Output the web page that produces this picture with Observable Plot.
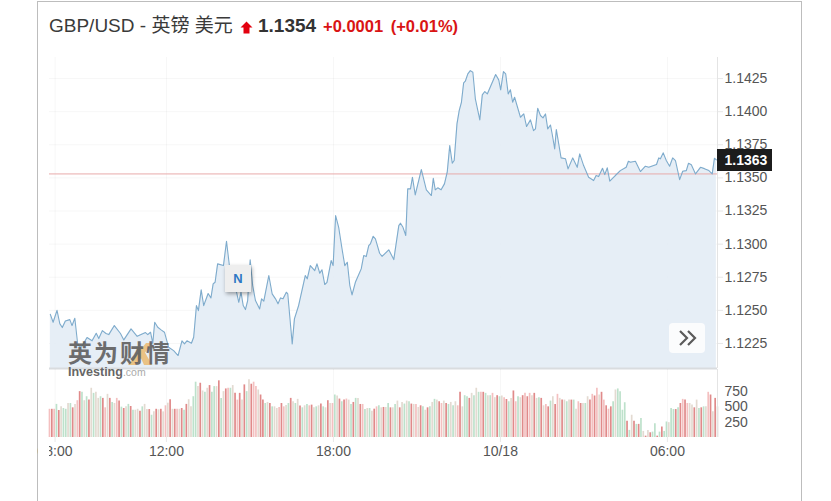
<!DOCTYPE html>
<html>
<head>
<meta charset="utf-8">
<script src="https://cdn.jsdelivr.net/npm/d3@7"></script>
<script src="https://cdn.jsdelivr.net/npm/@observablehq/plot@0.6"></script>
<style>
html,body{margin:0;padding:0;background:#fff;overflow:hidden}
body{width:831px;height:501px;position:relative;font-family:"Liberation Sans","Noto Sans CJK SC",Arial,sans-serif}
.abs{position:absolute}
#frame{left:37px;top:1px;width:765px;height:520px;border:1px solid #bdbdbd;box-sizing:border-box}
#head{left:49px;top:13px;height:26px;white-space:nowrap;color:#3a3a3a;font-size:19px;line-height:26px}
#price{left:258px;top:13px;font-size:19px;line-height:26px;font-weight:bold;color:#333}
#chg{left:323px;top:13px;font-size:16.5px;line-height:26px;font-weight:bold;color:#d91414;word-spacing:3px;white-space:nowrap}
#last{left:717px;top:149px;width:55px;height:22px;background:#1c1c1c;color:#fff;font-size:14px;font-weight:bold;line-height:22px;text-align:center;text-indent:3px}
#news{left:225px;top:265px;width:26px;height:27px;background:#eeeeee;box-shadow:1px 2px 4px rgba(0,0,0,.35);color:#2f78c4;font-size:13px;font-weight:bold;line-height:28px;text-align:center}
#btn{left:669px;top:323px;width:36px;height:30px;background:#fbfcfd;border-radius:4px}
#mask{left:38px;top:444px;width:11px;height:20px;background:#fff}
#logo{left:68px;top:340px;font-size:24px;line-height:24px;font-weight:bold;color:#5f5f5f;letter-spacing:2px;white-space:nowrap;font-family:"Noto Sans CJK SC",sans-serif;opacity:.9}
#logox{left:126px;top:341px;opacity:.75}
#logo2{left:68px;top:366px;font-size:12.5px;line-height:12px;font-weight:bold;color:#666;white-space:nowrap}
#logo2 span{font-weight:normal;color:#aaa;font-size:10.5px}
</style>
</head>
<body>
<div id="frame" class="abs"></div>
<div id="head" class="abs">GBP/USD - 英镑 美元</div>
<svg class="abs" style="left:240px;top:21px" width="13" height="13" viewBox="0 0 13 13"><path d="M6.5 0.5 L12.5 6.5 L9.5 6.5 L9.5 12.5 L3.5 12.5 L3.5 6.5 L0.5 6.5 Z" fill="#e3000f"/></svg>
<div id="price" class="abs">1.1354</div>
<div id="chg" class="abs">+0.0001 (+0.01%)</div>
<div id="priceChart" class="abs" style="left:0;top:57px"></div>
<div id="volumeChart" class="abs" style="left:0;top:369px"></div>
<div id="mask" class="abs"></div>
<svg id="logox" class="abs" width="28" height="24" viewBox="0 0 28 24"><path d="M2 24 L20 2 L26 2 L10 24 Z M10 6 L16 6 L26 24 L18 24 Z" fill="#ecb45f"/></svg>
<div id="logo" class="abs">英为财情</div>
<div id="logo2" class="abs">Investing<span>.com</span></div>
<div id="news" class="abs">N</div>
<div id="btn" class="abs"><svg width="36" height="30" viewBox="0 0 36 30"><path d="M11 8 L18 15 L11 22 M19 8 L26 15 L19 22" fill="none" stroke="#5b5b5b" stroke-width="2.2"/></svg></div>
<div id="last" class="abs">1.1363</div>
<script>
const priceHours = [7.83,7.93,8.07,8.17,8.26,8.37,8.53,8.61,8.71,8.81,8.87,8.97,9.15,9.33,9.48,9.57,9.70,9.83,9.93,10.13,10.35,10.47,10.73,10.95,11.13,11.25,11.33,11.43,11.51,11.58,11.69,11.81,11.93,12.08,12.26,12.42,12.56,12.65,12.74,12.90,12.98,13.08,13.15,13.25,13.34,13.50,13.60,13.68,13.75,13.84,14.05,14.16,14.27,14.37,14.52,14.60,14.68,14.76,14.84,14.92,15.01,15.10,15.20,15.35,15.42,15.50,15.68,15.80,15.92,16.01,16.10,16.19,16.31,16.36,16.52,16.60,16.75,16.99,17.06,17.17,17.33,17.41,17.51,17.59,17.69,17.77,17.92,17.99,18.08,18.19,18.31,18.41,18.50,18.59,18.67,18.79,19.00,19.09,19.18,19.27,19.33,19.43,19.51,19.66,19.75,19.99,20.17,20.35,20.41,20.50,20.60,20.67,20.77,20.84,20.94,21.16,21.34,21.52,21.59,21.66,21.75,21.87,21.99,22.09,22.18,22.27,22.34,22.44,22.52,22.60,22.68,22.74,22.83,22.92,23.01,23.10,23.26,23.35,23.44,23.53,23.83,23.94,24.01,24.11,24.19,24.28,24.36,24.44,24.51,24.72,24.84,24.94,25.08,25.19,25.26,25.34,25.44,25.53,25.62,25.70,25.80,25.87,25.95,26.01,26.18,26.34,26.43,26.60,26.76,26.85,26.99,27.17,27.35,27.44,27.53,27.67,27.75,27.84,27.93,28.13,28.31,28.52,28.60,28.67,28.85,29.03,29.21,29.33,29.61,29.69,29.75,29.85,29.96,30.08,30.19,30.29,30.44,30.55,30.68,30.76,30.86,31.01,31.19,31.33,31.49,31.61,31.69,31.76];
const prices = [1.1247,1.1241,1.1250,1.1240,1.1237,1.1242,1.1243,1.12385,1.1244,1.1225,1.12227,1.1223,1.12295,1.1227,1.12327,1.12287,1.12347,1.12325,1.12317,1.12385,1.12325,1.12277,1.1236,1.12304,1.12322,1.12332,1.12317,1.12335,1.1225,1.1241,1.12372,1.12353,1.12335,1.12221,1.12196,1.12159,1.1227,1.12247,1.1227,1.12252,1.12297,1.12536,1.12498,1.12655,1.12536,1.12627,1.12593,1.127,1.12712,1.12851,1.12838,1.13022,1.12825,1.12725,1.12637,1.12561,1.12637,1.12536,1.12506,1.12574,1.12881,1.12687,1.12574,1.12511,1.12587,1.12569,1.12763,1.12624,1.12587,1.12549,1.12594,1.12587,1.12637,1.12625,1.12247,1.12436,1.12536,1.12763,1.12738,1.12838,1.128,1.12851,1.1278,1.12806,1.12695,1.12712,1.12876,1.12838,1.13216,1.13127,1.12964,1.12838,1.12863,1.12687,1.12617,1.12712,1.12813,1.12914,1.12906,1.12989,1.13002,1.13059,1.1304,1.12931,1.12908,1.12957,1.12883,1.1314,1.13158,1.13127,1.13065,1.13417,1.13417,1.13505,1.13372,1.13563,1.1341,1.13367,1.13497,1.1341,1.13425,1.1341,1.13455,1.13543,1.13744,1.13611,1.13631,1.13908,1.14008,1.14071,1.14218,1.1423,1.14285,1.1431,1.14298,1.14097,1.13938,1.14127,1.14152,1.14134,1.1428,1.1424,1.14165,1.14303,1.14285,1.14134,1.14165,1.14071,1.14109,1.13958,1.13983,1.13888,1.13938,1.13857,1.1387,1.14026,1.13971,1.13953,1.13983,1.1387,1.13899,1.1382,1.13719,1.13865,1.13651,1.13644,1.13568,1.13651,1.1358,1.13681,1.13593,1.13505,1.1348,1.13518,1.1351,1.13573,1.13525,1.13576,1.13475,1.13518,1.13555,1.1358,1.13626,1.13618,1.13626,1.13548,1.13588,1.1358,1.13601,1.13651,1.13644,1.13689,1.13631,1.13588,1.13651,1.13631,1.13487,1.1355,1.13555,1.13611,1.13599,1.1353,1.1358,1.1357,1.13555,1.1353,1.13648,1.13636];
const previousClose = 1.1353;
const volumes = [460,460,460,540,440,500,473,460,555,555,484,540,600,748,737,600,665,610,803,720,737,638,665,638,484,704,638,572,555,638,594,495,473,500,540,506,445,445,460,429,500,540,456,456,363,418,460,451,460,418,517,560,616,460,460,460,460,473,445,540,616,500,665,902,830,885,759,737,803,847,737,830,830,924,638,748,792,803,803,847,720,610,720,610,858,748,940,869,902,830,775,693,610,555,572,
555,500,500,473,490,555,500,520,555,638,583,555,622,512,484,517,539,517,528,484,500,517,545,500,484,600,555,555,693,677,627,583,610,627,610,539,572,638,638,539,539,456,473,473,429,462,500,517,484,490,490,555,484,484,540,594,484,572,545,594,583,545,539,539,490,517,500,445,484,500,572,622,610,583,555,594,555,539,572,517,583,517,737,500,682,665,638,720,682,803,737,737,737,720,682,682,720,649,682,
665,677,649,620,583,638,759,583,665,649,682,720,665,720,682,720,638,649,638,517,539,500,594,665,539,704,638,610,610,583,610,610,610,462,583,555,555,555,665,610,704,677,803,693,737,610,517,462,500,583,775,792,748,445,567,264,116,363,264,214,214,308,99,22,116,77,88,226,22,88,171,99,253,242,473,456,456,484,555,622,610,555,555,528,484,610,473,484,500,500,737,693,418,638,500];
const volumeTones = ("prpgrbggbg"+"rbprgbgrbg"+"bbgrpbrgbp"+"rgrbgrgbbr"+"gbbrgbrbrb"+"pbrbrpbrgr"+"bbggbrbgbr"+"ggbrgbrpgb"+"rprbrgbrpp"+"brrgbrgbbp"+"rpbgrbgbrg"+"bgprbgbrgb"+"rbpgbrgrpb"+"grgbrpgbgb"+"rpgbrbgrbg"+"brbgbgrbpb"+"rgbrgbgbrp"+"brgbgbprbg"+"grbgbgprgb"+"gpbrgbprgb"+"rpgbrprpbr"+"bgrbprgbrp"+"brbgbrgbpr"+"bgbrprpbrp"+"rprgbggggr"+"gbrgrgbrbr"+"ggrgrggbgg"+"rgrprpbbrb"+"grgbprbr").split("");
const toneColors = {r:"#e08a8a", p:"#f4c0c0", g:"#bde1cb", b:"#e3dad1"};
const priceTicks = [1.1225,1.125,1.1275,1.13,1.1325,1.135,1.1375,1.14,1.1425];
const volumeTicks = [250,500,750];
const timeTicks = [8,12,18,24,30];
const timeLabels = ["08:00","12:00","18:00","10/18","06:00"];

const xDomain = [7.8,31.8];
const font = '"Liberation Sans",Arial,sans-serif';
const priceRows = priceHours.map((h,i)=>({h,p:prices[i]}));
const volumeRows = volumes.map((v,i)=>({h:7.8+i/12,v,tone:volumeTones[i]||"b"}));
const priceFloor = 1.12061;

const priceChart = Plot.plot({
  width:831,height:311,marginLeft:49,marginRight:114,marginTop:0,marginBottom:0,
  style:{fontFamily:font,background:"transparent",overflow:"visible"},
  x:{domain:xDomain,axis:null},
  y:{domain:[priceFloor,1.14409],axis:null},
  marks:[
    Plot.gridX(timeTicks,{stroke:"#000",strokeOpacity:0.035}),
    Plot.gridY(priceTicks,{stroke:"#000",strokeOpacity:0.035}),
    Plot.areaY(priceRows,{x:"h",y1:priceFloor,y2:"p",fill:"#e3ecf5",fillOpacity:0.9}),
    Plot.ruleY([previousClose],{stroke:"#e8aaaa",strokeWidth:1}),
    Plot.lineY(priceRows,{x:"h",y:"p",stroke:"#7eabcc",strokeWidth:1.1,curve:"linear"}),
    Plot.ruleX([xDomain[1]],{stroke:"#e4e4e4"}),
    Plot.ruleY([priceFloor],{stroke:"#d9dcdf",strokeWidth:2}),
    Plot.axisY(priceTicks,{anchor:"right",label:null,tickSize:5,tickPadding:2,fontSize:14,stroke:"#e8e8e8",fill:"#555",tickFormat:d=>d.toFixed(4)})
  ]
});
document.getElementById("priceChart").append(priceChart);

const volumeChart = Plot.plot({
  width:831,height:132,marginLeft:49,marginRight:114,marginTop:0,marginBottom:64,
  style:{fontFamily:font,background:"transparent",overflow:"visible"},
  x:{domain:xDomain,axis:null},
  y:{domain:[0,1109],axis:null},
  marks:[
    Plot.gridX(timeTicks,{stroke:"#000",strokeOpacity:0.035}),
    Plot.ruleX(volumeRows,{x:"h",y1:0,y2:"v",stroke:d=>toneColors[d.tone],strokeWidth:1.7}),
    Plot.ruleX([xDomain[1]],{stroke:"#e4e4e4"}),
    Plot.axisY(volumeTicks,{anchor:"right",label:null,tickSize:0,tickPadding:7,fontSize:14,fill:"#555"}),
    Plot.axisX(timeTicks,{anchor:"bottom",label:null,tickSize:5,tickPadding:4,fontSize:14,stroke:"#e8e8e8",fill:"#555",tickFormat:d=>timeLabels[timeTicks.indexOf(d)]})
  ]
});
document.getElementById("volumeChart").append(volumeChart);
</script>
</body>
</html>
